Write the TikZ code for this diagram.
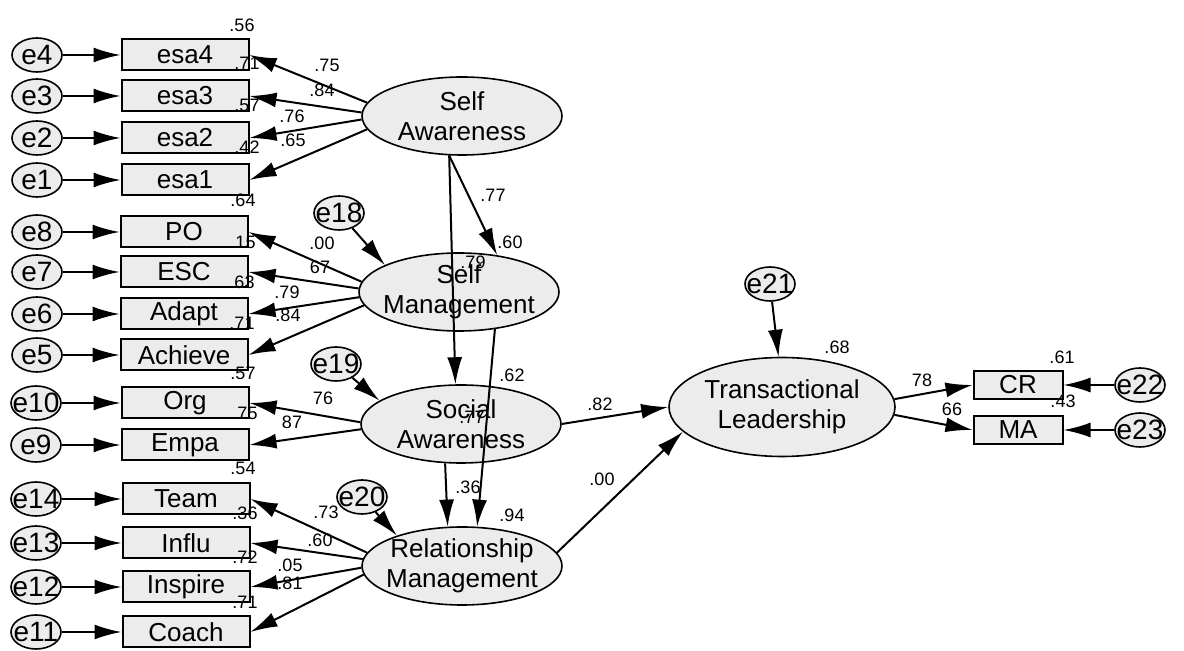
\documentclass[tikz,border=0pt]{standalone}
\usepackage{fontspec}
\setmainfont{Liberation Sans}
\usetikzlibrary{arrows.meta,shapes.geometric}

\tikzset{
  obs/.style={draw, line width=1pt, fill=gray!15, minimum width=63.5pt,
    minimum height=15.5pt, inner sep=0pt, font=\fontsize{13}{13}\selectfont},
  err/.style={draw, ellipse, line width=0.8pt, fill=gray!15, minimum width=25pt,
    minimum height=17pt, inner xsep=-5pt, inner ysep=-2pt,
    font=\fontsize{14}{14}\selectfont},
  latent/.style={draw, ellipse, line width=0.8pt, fill=gray!15, minimum width=100pt,
    minimum height=39pt, inner xsep=-8pt, inner ysep=0pt, align=center,
    font=\fontsize{13}{15}\selectfont},
  arr/.style={line width=1pt, -{Latex[length=13.5pt,width=7.5pt]}},
  coef/.style={inner sep=0pt, font=\fontsize{9}{9}\selectfont}
}

\begin{document}
\begin{tikzpicture}[x=0.5pt, y=-0.5pt]
\useasboundingbox (0,0) rectangle (1184,651);

% latent variables
\node[latent] (sa) at (462,116) {Self\\Awareness};
\node[latent] (sm) at (459,292) {Self\\Management};
\node[latent] (soca) at (461,424) {Social\\Awareness};
\node[latent] (rm) at (462,566) {Relationship\\Management};
\node[latent, minimum width=113pt, minimum height=49.5pt] (tl) at (782,407) {Transactional\\Leadership};

% indicators
\node[obs] (esa4) at (185,55) {esa4};
\node[obs] (esa3) at (185,96) {esa3};
\node[obs] (esa2) at (185,138) {esa2};
\node[obs] (esa1) at (185,180) {esa1};
\node[obs] (po) at (184,232) {PO};
\node[obs] (esc) at (184,272) {ESC};
\node[obs] (adapt) at (184,314) {Adapt};
\node[obs] (achieve) at (184,355) {Achieve};
\node[obs] (org) at (185,403) {Org};
\node[obs] (empa) at (185,445) {Empa};
\node[obs] (team) at (186,499) {Team};
\node[obs] (influ) at (186,543) {Influ};
\node[obs] (inspire) at (186,587) {Inspire};
\node[obs] (coach) at (186,632) {Coach};
\node[obs, minimum width=44.5pt, minimum height=14pt] (cr) at (1018,385) {CR};
\node[obs, minimum width=44.5pt, minimum height=14pt] (ma) at (1018,430) {MA};

% errors
\node[err] (e4) at (37,55) {e4};
\node[err] (e3) at (37,96) {e3};
\node[err] (e2) at (37,138) {e2};
\node[err] (e1) at (37,180) {e1};
\node[err] (e8) at (37,232) {e8};
\node[err] (e7) at (37,272) {e7};
\node[err] (e6) at (37,314) {e6};
\node[err] (e5) at (37,355) {e5};
\node[err] (e10) at (36,403) {e10};
\node[err] (e9) at (36,445) {e9};
\node[err] (e14) at (36,499) {e14};
\node[err] (e13) at (36,543) {e13};
\node[err] (e12) at (36,587) {e12};
\node[err] (e11) at (36,632) {e11};
\node[err] (e18) at (339,213) {e18};
\node[err] (e19) at (336,364) {e19};
\node[err] (e20) at (362,497) {e20};
\node[err] (e21) at (770,284) {e21};
\node[err] (e22) at (1140,385) {e22};
\node[err] (e23) at (1140,430) {e23};

% error paths
\draw[arr] (e4) -- (esa4);
\draw[arr] (e3) -- (esa3);
\draw[arr] (e2) -- (esa2);
\draw[arr] (e1) -- (esa1);
\draw[arr] (e8) -- (po);
\draw[arr] (e7) -- (esc);
\draw[arr] (e6) -- (adapt);
\draw[arr] (e5) -- (achieve);
\draw[arr] (e10) -- (org);
\draw[arr] (e9) -- (empa);
\draw[arr] (e14) -- (team);
\draw[arr] (e13) -- (influ);
\draw[arr] (e12) -- (inspire);
\draw[arr] (e11) -- (coach);
\draw[arr] (e22) -- (cr);
\draw[arr] (e23) -- (ma);
\draw[arr] (e18) -- (sm.160);
\draw[arr] (e19) -- (soca.164);
\draw[arr] (e20) -- (rm.155);
\draw[arr] (e21) -- (tl.94);

% loadings
\draw[arr] (sa.172) -- (esa4.east);
\draw[arr] (sa.178) -- (esa3.east);
\draw[arr] (sa.182) -- (esa2.east);
\draw[arr] (sa.188) -- (esa1.east);
\draw[arr] (sm.174) -- (po.east);
\draw[arr] (sm.178) -- (esc.east);
\draw[arr] (sm.183) -- (adapt.east);
\draw[arr] (sm.188) -- (achieve.east);
\draw[arr] (soca.179) -- (org.east);
\draw[arr] (soca.183) -- (empa.east);
\draw[arr] (rm.172) -- (team.east);
\draw[arr] (rm.176) -- (influ.east);
\draw[arr] (rm.181) -- (inspire.east);
\draw[arr] (rm.185) -- (coach.east);
\draw[arr] (tl.4) -- (cr.west);
\draw[arr] (tl.356) -- (ma.west);

% structural paths
\draw[arr] (sa.252) -- (sm.44);
\draw[arr] (sa.252) -- (soca.98);
\draw[arr] (sm.314) -- (rm.69);
\draw[arr] (soca.248) -- (rm.110);
\draw[arr] (soca.east) -- (tl.west);
\draw[arr] (rm.8) -- (tl.194);

% estimates
\node[coef] (r1) at (242,25) {.56};
\node[coef] (r2) at (247,63) {.71};
\node[coef] (r3) at (327,65) {.75};
\node[coef] (r4) at (322,90) {.84};
\node[coef] (r5) at (247,105) {.57};
\node[coef] (r6) at (292,116) {.76};
\node[coef] (r7) at (293,140) {.65};
\node[coef] (r8) at (247,147) {.42};
\node[coef] (r9) at (243,200) {.64};
\node[coef] (r10) at (243,242) {.15};
\node[coef] (r11) at (322,243) {.00};
\node[coef] (r12) at (320,267) {67};
\node[coef] (r13) at (242,282) {.63};
\node[coef] (r14) at (287,292) {.79};
\node[coef] (r15) at (288,315) {.84};
\node[coef] (r16) at (242,323) {.71};
\node[coef] (r17) at (243,373) {.57};
\node[coef] (r18) at (323,398) {76};
\node[coef] (r19) at (245,413) {.75};
\node[coef] (r20) at (292,422) {87};
\node[coef] (r21) at (243,468) {.54};
\node[coef] (r22) at (245,513) {.36};
\node[coef] (r23) at (326,512) {.73};
\node[coef] (r24) at (320,540) {.60};
\node[coef] (r25) at (245,557) {.72};
\node[coef] (r26) at (290,565) {.05};
\node[coef] (r27) at (290,583) {.81};
\node[coef] (r28) at (245,602) {.71};
\node[coef] (r29) at (493,195) {.77};
\node[coef] (r30) at (510,242) {.60};
\node[coef] (r31) at (473,262) {.79};
\node[coef] (r32) at (512,375) {.62};
\node[coef] (r33) at (600,404) {.82};
\node[coef] (r34) at (472,417) {.77};
\node[coef] (r35) at (468,487) {.36};
\node[coef] (r36) at (602,479) {.00};
\node[coef] (r37) at (512,515) {.94};
\node[coef] (r38) at (837,347) {.68};
\node[coef] (r39) at (1062,357) {.61};
\node[coef] (r40) at (922,380) {78};
\node[coef] (r41) at (1063,401) {.43};
\node[coef] (r42) at (952,409) {66};
\end{tikzpicture}
\end{document}
